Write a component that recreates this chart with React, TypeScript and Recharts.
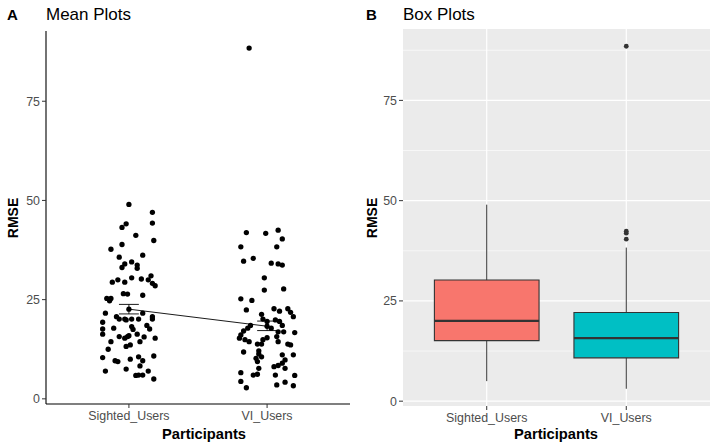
import React from 'react';
import { ScatterChart, Scatter, XAxis, YAxis, ReferenceLine, ReferenceArea, CartesianGrid } from 'recharts';

const FONT = "'Liberation Sans', Arial, sans-serif";

const categories = ['Sighted_Users', 'VI_Users'];
const yTicks = [0, 25, 50, 75];
const minorGrid = [12.5, 37.5, 62.5, 87.5];

// Panel A: jittered observations (jitter offset from category, RMSE)
const sightedJitter = [0.0, 0.17, 0.17, -0.02, -0.05, 0.05, 0.18, -0.05, -0.13, 0.10, -0.07, 0.02, -0.03, 0.06, -0.05, 0.06, 0.16, -0.12, -0.08, -0.03, 0.02, 0.09, 0.14, 0.17, 0.19, -0.04, -0.01, -0.13, -0.16, 0.10, -0.14, -0.17, -0.09, -0.07, -0.03, -0.02, 0.02, 0.10, 0.07, 0.17, 0.17, -0.19, -0.19, -0.11, 0.02, 0.03, 0.13, 0.15, -0.19, -0.07, -0.03, -0.01, 0.0, 0.06, 0.11, 0.19, -0.13, 0.08, -0.02, 0.01, -0.15, -0.19, -0.10, -0.08, 0.01, 0.07, 0.10, 0.18, 0.08, -0.02, -0.17, 0.14, 0.05, 0.07, 0.10, 0.18];
const sightedRmse = [49.0, 47.0, 44.3, 44.1, 43.2, 41.2, 39.9, 38.9, 37.7, 36.2, 35.7, 34.5, 34.0, 33.7, 33.1, 32.9, 31.0, 29.4, 30.0, 29.4, 30.5, 30.2, 30.0, 29.1, 28.5, 26.5, 26.4, 25.3, 25.3, 26.1, 24.7, 21.6, 20.7, 20.1, 20.1, 19.9, 20.1, 21.6, 20.1, 20.7, 20.1, 19.3, 17.6, 17.8, 18.2, 17.5, 18.5, 17.6, 16.3, 15.7, 15.3, 15.7, 15.9, 16.3, 15.6, 15.3, 14.4, 14.4, 13.2, 13.6, 12.5, 10.4, 9.6, 9.4, 10.0, 10.6, 9.6, 10.8, 8.3, 7.5, 7.0, 7.0, 5.9, 6.0, 6.0, 5.0];
const viJitter = [-0.13, -0.15, -0.01, 0.08, 0.11, -0.19, 0.07, -0.17, -0.10, 0.03, 0.08, 0.11, -0.02, -0.02, 0.12, -0.19, -0.11, -0.15, -0.04, 0.05, 0.09, 0.15, 0.17, 0.19, -0.03, 0.0, 0.06, 0.09, 0.11, -0.12, -0.14, -0.17, 0.03, 0.08, 0.12, 0.20, -0.19, -0.20, -0.16, -0.13, -0.07, -0.03, 0.0, -0.04, 0.07, 0.08, 0.15, 0.17, -0.17, -0.06, -0.06, -0.04, -0.08, 0.11, 0.19, -0.07, 0.13, 0.05, 0.08, 0.11, 0.13, -0.06, -0.19, -0.10, -0.07, 0.06, 0.20, -0.19, 0.13, 0.07, -0.15, 0.19];
const viRmse = [88.4, 41.9, 41.7, 42.5, 40.3, 38.3, 38.3, 34.7, 35.4, 34.2, 34.0, 33.7, 30.5, 27.4, 27.7, 25.2, 24.8, 22.4, 21.3, 22.7, 22.1, 22.7, 21.8, 20.7, 20.1, 19.5, 19.9, 19.5, 18.5, 18.5, 17.8, 17.1, 17.8, 16.9, 16.9, 16.7, 16.1, 15.3, 14.9, 14.4, 13.8, 14.9, 15.4, 13.8, 15.7, 14.4, 13.8, 13.6, 11.8, 12.1, 11.3, 10.6, 10.2, 11.1, 11.1, 9.4, 9.8, 8.1, 8.4, 9.0, 7.7, 7.7, 6.6, 6.0, 6.2, 6.0, 5.9, 4.4, 4.2, 3.5, 2.8, 3.3];

// Panel A: mean and standard error
const meanRmse = [22.6, 18.3];
const seLow = [21.4, 17.2];
const seHigh = [23.8, 19.6];

// Panel B: box plot statistics
const boxMin = [5.0, 3.1];
const boxQ1 = [15.1, 10.8];
const boxMedian = [20.0, 15.7];
const boxQ3 = [30.2, 22.1];
const boxMax = [49.0, 38.3];
const viOutliers = [40.4, 41.9, 42.4, 88.5];
const boxColors = ['#F8766D', '#00BFC4'];

const BOX_HALF = 0.375;
const CAP_HALF = 0.072;

const Dot = (props: any) => <circle cx={props.cx} cy={props.cy} r={2.65} fill="#000" />;
const OutDot = (props: any) => <circle cx={props.cx} cy={props.cy} r={2.4} fill="#333333" />;

const tickStyle = { fill: '#4D4D4D', fontSize: 12.4, fontFamily: FONT };
const catFmt = (v: number) => categories[Math.round(v) - 1] ?? '';

export default function App() {
  const sightedData = sightedJitter.map((j, i) => ({ x: 1 + j, y: sightedRmse[i] }));
  const viData = viJitter.map((j, i) => ({ x: 2 + j, y: viRmse[i] }));
  const meanData = meanRmse.map((m, i) => ({ x: i + 1, y: m }));
  const outlierData = viOutliers.map((v) => ({ x: 2, y: v }));

  return (
    <div style={{ position: 'fixed', left: 0, top: 0, width: 716, height: 446, background: '#fff', fontFamily: FONT }}>
      <div style={{ position: 'absolute', left: 0, top: 0 }}>
        <ScatterChart width={360} height={446} margin={{ top: 31, right: 10, bottom: 0, left: 0 }}>
          <XAxis type="number" dataKey="x" domain={[0.4, 2.6]} ticks={[1, 2]} tickFormatter={catFmt} height={42}
            axisLine={{ stroke: '#000', strokeWidth: 1.1 }} tickLine={{ stroke: '#333' }} tickSize={4} tickMargin={3}
            tick={tickStyle} allowDataOverflow interval={0} />
          <YAxis type="number" dataKey="y" domain={[-1.3, 92.7]} ticks={yTicks} width={46}
            axisLine={{ stroke: '#000', strokeWidth: 1.1 }} tickLine={{ stroke: '#333' }} tickSize={4}
            tick={tickStyle} allowDataOverflow interval={0} />
          <Scatter data={sightedData} shape={Dot} isAnimationActive={false} />
          <Scatter data={viData} shape={Dot} isAnimationActive={false} />
          {meanRmse.map((_, i) => (
            <ReferenceLine key={'ev' + i} segment={[{ x: i + 1, y: seLow[i] }, { x: i + 1, y: seHigh[i] }]} stroke="#000" strokeWidth={0.9} />
          ))}
          {meanRmse.map((_, i) => (
            <ReferenceLine key={'et' + i} segment={[{ x: i + 1 - CAP_HALF, y: seHigh[i] }, { x: i + 1 + CAP_HALF, y: seHigh[i] }]} stroke="#000" strokeWidth={0.9} />
          ))}
          {meanRmse.map((_, i) => (
            <ReferenceLine key={'eb' + i} segment={[{ x: i + 1 - CAP_HALF, y: seLow[i] }, { x: i + 1 + CAP_HALF, y: seLow[i] }]} stroke="#000" strokeWidth={0.9} />
          ))}
          <Scatter data={meanData} shape={Dot} line={{ stroke: '#000', strokeWidth: 0.9 }} isAnimationActive={false} />
        </ScatterChart>
      </div>

      <div style={{ position: 'absolute', left: 360, top: 0 }}>
        <ScatterChart width={356} height={446} margin={{ top: 29, right: 6, bottom: 0, left: 0 }}>
          <CartesianGrid fill="#EBEBEB" stroke="#FFFFFF" strokeWidth={0.6} horizontalValues={minorGrid} vertical={false} />
          <CartesianGrid stroke="#FFFFFF" strokeWidth={1.2} horizontalValues={yTicks} verticalValues={[1, 2]} />
          <XAxis type="number" dataKey="x" domain={[0.4, 2.6]} ticks={[1, 2]} tickFormatter={catFmt} height={40}
            axisLine={false} tickLine={{ stroke: '#333' }} tickSize={4} tickMargin={3}
            tick={tickStyle} allowDataOverflow interval={0} />
          <YAxis type="number" dataKey="y" domain={[-1.2, 92.8]} ticks={yTicks} width={43}
            axisLine={false} tickLine={{ stroke: '#333' }} tickSize={4}
            tick={tickStyle} allowDataOverflow interval={0} />
          {boxMin.map((_, i) => (
            <ReferenceLine key={'wu' + i} segment={[{ x: i + 1, y: boxQ3[i] }, { x: i + 1, y: boxMax[i] }]} stroke="#333333" strokeWidth={1} />
          ))}
          {boxMin.map((_, i) => (
            <ReferenceLine key={'wl' + i} segment={[{ x: i + 1, y: boxMin[i] }, { x: i + 1, y: boxQ1[i] }]} stroke="#333333" strokeWidth={1} />
          ))}
          {boxMin.map((_, i) => (
            <ReferenceArea key={'bx' + i} x1={i + 1 - BOX_HALF} x2={i + 1 + BOX_HALF} y1={boxQ1[i]} y2={boxQ3[i]}
              fill={boxColors[i]} fillOpacity={1} stroke="#333333" strokeWidth={1.1} />
          ))}
          {boxMin.map((_, i) => (
            <ReferenceLine key={'md' + i} segment={[{ x: i + 1 - BOX_HALF, y: boxMedian[i] }, { x: i + 1 + BOX_HALF, y: boxMedian[i] }]} stroke="#333333" strokeWidth={2.2} />
          ))}
          <Scatter data={outlierData} shape={OutDot} isAnimationActive={false} />
        </ScatterChart>
      </div>

      <svg width={716} height={446} style={{ position: 'absolute', left: 0, top: 0, pointerEvents: 'none' }} fontFamily={FONT}>
        <text x={7} y={19.5} fontSize={15} fontWeight="bold" fill="#000">A</text>
        <text x={46} y={20} fontSize={17} fill="#000">Mean Plots</text>
        <text x={366} y={19.5} fontSize={15} fontWeight="bold" fill="#000">B</text>
        <text x={403} y={19.5} fontSize={17} fill="#000">Box Plots</text>
        <text x={204} y={439} fontSize={14.7} fontWeight="bold" textAnchor="middle" fill="#000">Participants</text>
        <text x={556} y={439} fontSize={14.7} fontWeight="bold" textAnchor="middle" fill="#000">Participants</text>
        <text x={12.5} y={218} fontSize={14} fontWeight="bold" textAnchor="middle" dominantBaseline="central" transform="rotate(-90, 12.5, 218)" fill="#000">RMSE</text>
        <text x={372} y={218} fontSize={14} fontWeight="bold" textAnchor="middle" dominantBaseline="central" transform="rotate(-90, 372, 218)" fill="#000">RMSE</text>
      </svg>
    </div>
  );
}
